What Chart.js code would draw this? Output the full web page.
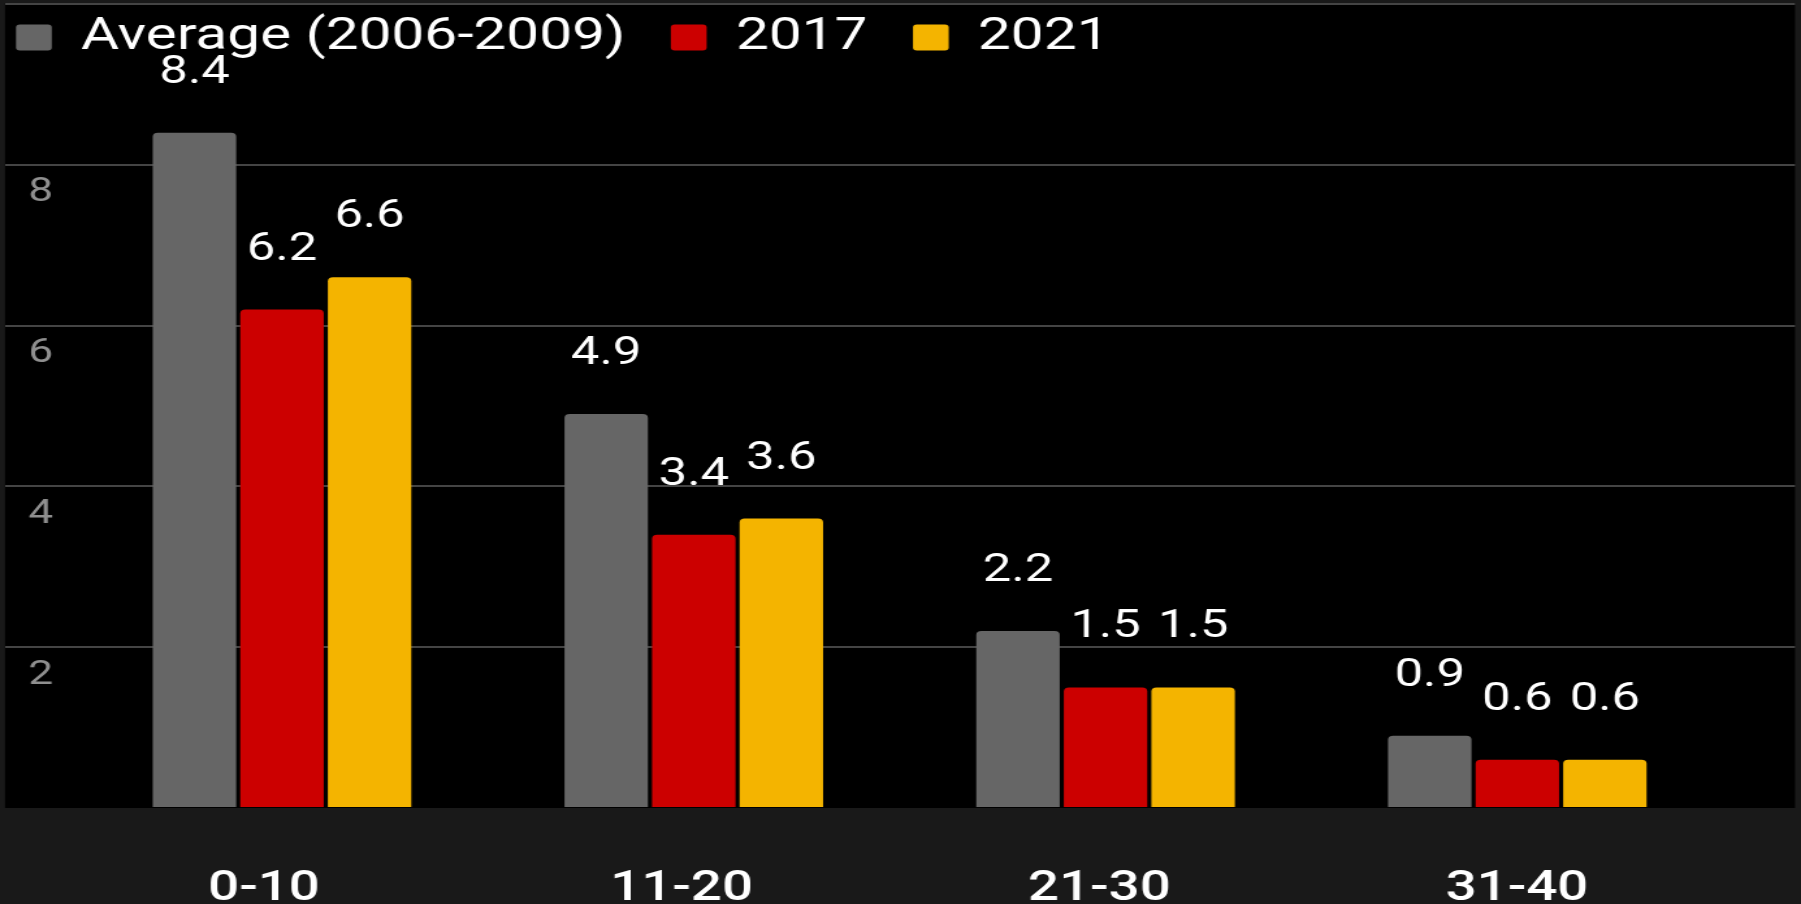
<!DOCTYPE html>
<html>
<head>
<meta charset="utf-8">
<script src="https://cdn.jsdelivr.net/npm/chart.js@4.4.1/dist/chart.umd.min.js"></script>
<style>
  html, body { margin: 0; padding: 0; width: 1801px; height: 904px; overflow: hidden; background: #191919; }
  /* the source picture is stretched sideways, so the chart is drawn narrow and widened */
  #wrap { position: absolute; left: 0; top: 0; width: 1385px; height: 904px; transform: scaleX(1.30036); transform-origin: 0 0; }
</style>
</head>
<body>
<div id="wrap"><canvas id="chart"></canvas></div>
<script>
const categories = ['0-10', '11-20', '21-30', '31-40'];
const seriesNames = ['Average (2006-2009)', '2017', '2021'];
const avgValues = [8.4, 4.9, 2.2, 0.9];
const values2017 = [6.2, 3.4, 1.5, 0.6];
const values2021 = [6.6, 3.6, 1.5, 0.6];
const yTickLabels = [2, 4, 6, 8];

const colors = ['#666666', '#cc0000', '#f4b400'];
const toPoints = arr => arr.map((v, i) => ({ x: i, y: v }));
const catTicks = s => { s.ticks = categories.map((_, i) => ({ value: i })); };
const noPad = s => { s.paddingTop = s.paddingBottom = s.paddingLeft = s.paddingRight = 0; };

// black plate behind the plot + legend moved over the plot
const panel = {
  id: 'panel',
  beforeDraw(c) {
    const { ctx, chartArea: a } = c;
    ctx.save();
    ctx.fillStyle = '#000';
    ctx.fillRect(a.left, a.top - 1, a.right - a.left, a.bottom - a.top + 1);
    ctx.restore();
  },
  afterLayout(c) {
    const lg = c.legend;
    const w = lg.width, h = lg.height;
    lg.left = -22.7; lg.right = lg.left + w;
    lg.top = -20; lg.bottom = lg.top + h;
  }
};

const valueLabels = {
  id: 'valueLabels',
  afterDatasetsDraw(c) {
    const ctx = c.ctx;
    ctx.save();
    ctx.font = '39px Roboto';
    ctx.fillStyle = '#ffffff';
    ctx.textAlign = 'center';
    ctx.textBaseline = 'alphabetic';
    c.data.datasets.forEach((ds, i) => {
      c.getDatasetMeta(i).data.forEach((bar, j) => {
        ctx.fillText(ds.data[j].y.toFixed(1), bar.x, bar.y - 50);
      });
    });
    ctx.restore();
  }
};

Chart.defaults.font.family = 'Roboto';

const pad = { top: 4, left: 3.85, right: 4.6, bottom: 0 };

const chart = new Chart(document.getElementById('chart'), {
  type: 'bar',
  data: {
    datasets: [
      { label: seriesNames[0], data: toPoints(avgValues), backgroundColor: colors[0] },
      { label: seriesNames[1], data: toPoints(values2017), backgroundColor: colors[1] },
      { label: seriesNames[2], data: toPoints(values2021), backgroundColor: colors[2] }
    ]
  },
  options: {
    responsive: true,
    maintainAspectRatio: false,
    animation: false,
    layout: { autoPadding: false, padding: pad },
    datasets: {
      bar: { categoryPercentage: 0.638, barPercentage: 0.953, borderRadius: 4, borderSkipped: 'start', borderWidth: 0 }
    },
    plugins: {
      tooltip: { enabled: false },
      legend: {
        position: 'top',
        align: 'start',
        labels: {
          color: '#ffffff',
          font: { size: 45 },
          boxWidth: 27.5,
          boxHeight: 26,
          padding: 35,
          useBorderRadius: true,
          borderRadius: 3
        }
      }
    },
    scales: {
      x: {
        type: 'linear', min: -0.6727, max: 3.6744, display: false, offset: false,
        grid: { offset: false },
        afterBuildTicks: catTicks,
        afterFit: noPad
      },
      xLabels: {
        type: 'linear', position: 'bottom', min: -0.620, max: 3.6656, offset: false,
        afterBuildTicks: catTicks,
        afterFit: s => { noPad(s); s.height = 96; },
        grid: { display: false, drawTicks: false, offset: false },
        border: { display: false },
        ticks: {
          callback: v => categories[v],
          color: '#ffffff',
          font: { size: 42, weight: '500' },
          padding: 56,
          maxRotation: 0,
          autoSkip: false
        }
      },
      y: {
        min: 0, max: 10,
        afterFit: s => { noPad(s); s.width = 0; },
        border: { display: false },
        grid: {
          color: ctx => ctx.tick && ctx.tick.value === 0 ? 'rgba(0,0,0,0)' : '#444444',
          lineWidth: 2,
          drawTicks: false
        },
        ticks: {
          stepSize: 2,
          mirror: true,
          padding: 18,
          labelOffset: 28,
          color: '#8f8f8f',
          font: { size: 34 },
          callback: v => yTickLabels.includes(v) ? String(v) : ''
        }
      }
    }
  },
  plugins: [panel, valueLabels]
});

// the legend sits over the plot, so take its height back from the top
for (let k = 0; k < 3; k++) {
  const d = 4 - chart.chartArea.top;
  if (Math.abs(d) < 0.5) break;
  pad.top += d;
  chart.update('none');
}
</script>
</body>
</html>
